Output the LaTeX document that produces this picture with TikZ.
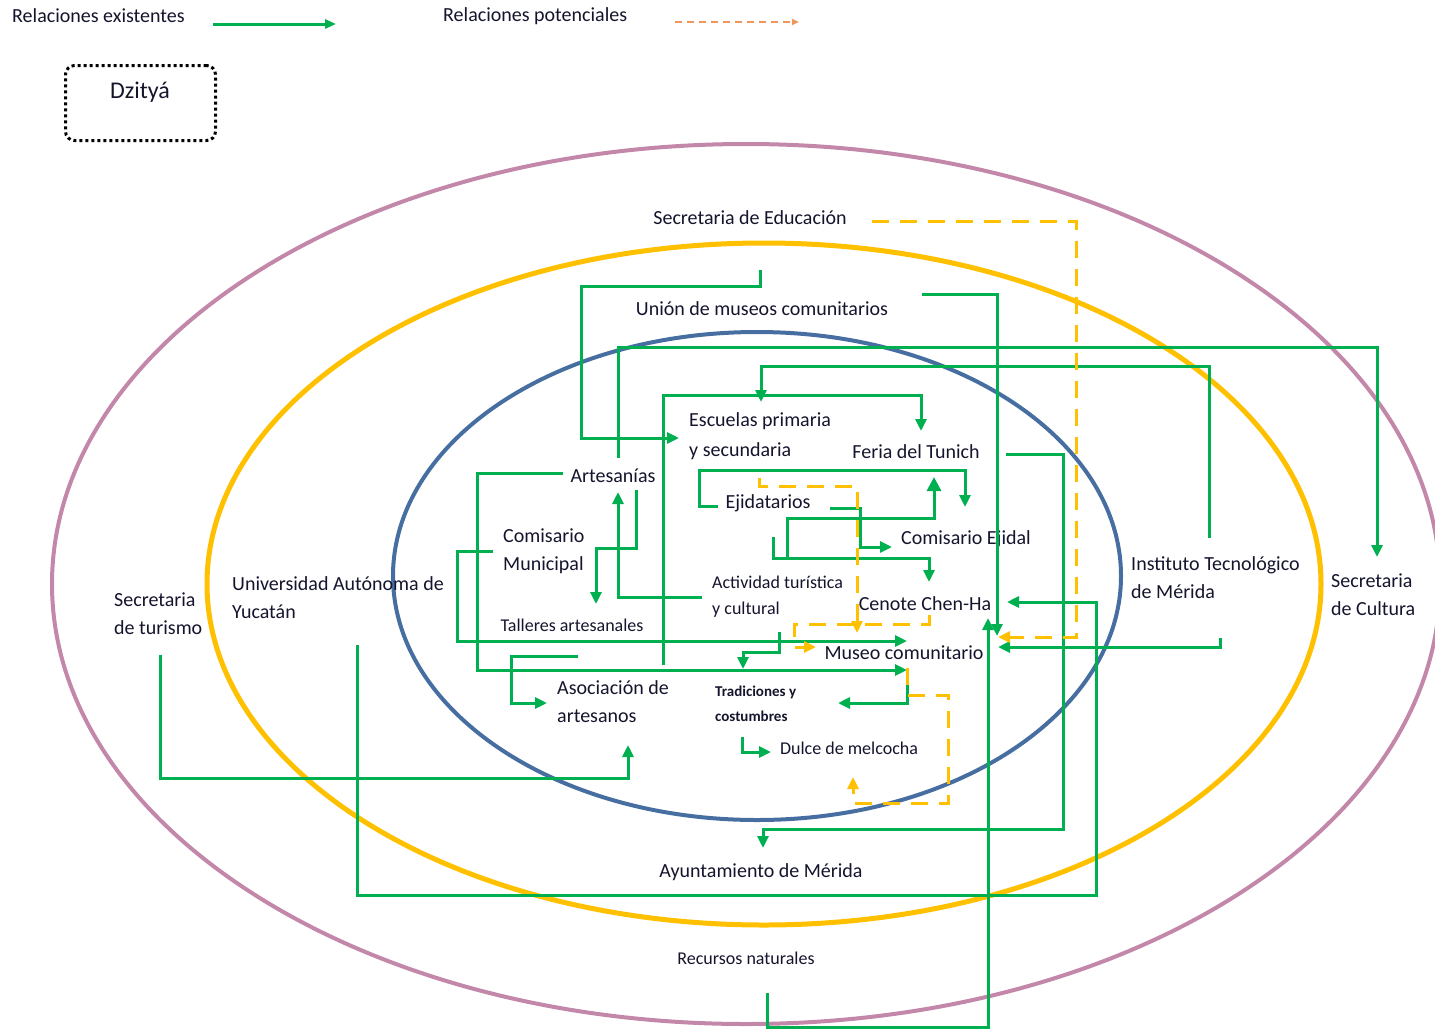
\documentclass[tikz,border=0pt]{standalone}
\usepackage{fontspec}
\setmainfont{Carlito}
\usetikzlibrary{arrows.meta}
\definecolor{grn}{RGB}{0,176,80}
\definecolor{gold}{RGB}{255,192,0}
\definecolor{pinkc}{RGB}{195,135,170}
\definecolor{bluec}{RGB}{70,110,160}
\definecolor{salmon}{RGB}{240,150,90}
\definecolor{txt}{RGB}{20,20,45}
\begin{document}
\begin{tikzpicture}[x=1pt,y=-1pt,
  lbl/.style={inner sep=0pt, text=txt, font=\fontsize{20}{28}\selectfont},
  lblw/.style={lbl, anchor=west, align=left},
  sml/.style={font=\fontsize{18}{26}\selectfont},
  rel/.style={draw=grn, line width=3pt, -{Triangle[length=12pt,width=11pt]}},
  pot/.style={draw=gold, line width=3pt, dash pattern=on 17pt off 11pt, -{Triangle[length=12pt,width=11pt]}},
  legrel/.style={draw=grn, line width=3pt, -{Triangle[length=11pt,width=9pt]}},
  legpot/.style={draw=salmon, line width=2pt, dash pattern=on 7pt off 5pt, -{Triangle[length=7pt,width=6pt]}},
  ring/.style={line width=4pt}
]
\useasboundingbox (0,0) rectangle (1435,1029);

% rings
\draw[ring, draw=pinkc] (746,584) ellipse [x radius=694, y radius=440];
\draw[ring, draw=gold, line width=5pt] (764,584) ellipse [x radius=557, y radius=341];
\draw[ring, draw=bluec] (757,576) ellipse [x radius=364, y radius=244];

% legend
\node[lbl, anchor=west] (leg1) at (12,16) {Relaciones existentes};
\node[lbl, anchor=west] (leg2) at (443,16) {Relaciones potenciales};
\coordinate (lg1a) at (213,24); \coordinate (lg1b) at (336,24);
\draw[legrel] (lg1a) -- (lg1b);
\coordinate (lg2a) at (675,22); \coordinate (lg2b) at (799,22);
\draw[legpot] (lg2a) -- (lg2b);
\node[draw=black, line width=3pt, dash pattern=on 3pt off 3pt, rounded corners=9pt,
      minimum width=150pt, minimum height=75pt] (dzbox) at (140.5,103) {};
\node[lbl, font=\fontsize{24}{28}\selectfont] (dz) at (140,92) {Dzityá};

% labels
\node[lbl] (sedu) at (750,218) {Secretaria de Educación};
\node[lbl] (umc) at (762,309) {Unión de museos comunitarios};
\node[lblw, font=\fontsize{20}{30}\selectfont] (esc) at (689,436) {Escuelas primaria\\y secundaria};
\node[lbl] (feria) at (916,452) {Feria del Tunich};
\node[lbl] (art) at (613,476) {Artesanías};
\node[lbl] (eji) at (768,503) {Ejidatarios};
\node[lblw] (cmun) at (503,551) {Comisario\\Municipal};
\node[lbl] (cej) at (966,539) {Comisario Ejidal};
\node[lblw, sml] (act) at (712,597) {Actividad turística\\y cultural};
\node[lbl] (cen) at (925,604) {Cenote Chen-Ha};
\node[lbl, sml] (tal) at (572,625) {Talleres artesanales};
\node[lbl] (mus) at (904,653) {Museo comunitario};
\node[lblw] (aso) at (557,702) {Asociación de\\artesanos};
\node[lblw, font=\fontsize{15}{25}\selectfont\bfseries] (tra) at (715,704) {Tradiciones y\\costumbres};
\node[lbl, sml] (dul) at (849,748) {Dulce de melcocha};
\node[lblw] (uady) at (232,598) {Universidad Autónoma de\\Yucatán};
\node[lblw] (stur) at (114,614) {Secretaria\\de turismo};
\node[lblw] (itm) at (1131,578) {Instituto Tecnológico\\de Mérida};
\node[lblw] (scul) at (1331,595) {Secretaria\\de Cultura};
\node[lbl] (ayu) at (761,872) {Ayuntamiento de Mérida};
\node[lbl, sml] (rec) at (746,958) {Recursos naturales};

% existing relations
\coordinate (A0) at (760,270); \coordinate (A1) at (679,438);
\draw[rel] (A0) -- (760,286) -- (581,286) -- (581,438) -- (A1);
\coordinate (B0) at (922,294); \coordinate (B1) at (997,636);
\draw[rel] (B0) -- (997,294) -- (B1);
\coordinate (C0) at (618,458); \coordinate (C1) at (1377,557);
\draw[rel] (C0) -- (618,347) -- (1377,347) -- (C1);
\coordinate (D0) at (1209,538); \coordinate (D1) at (761,402);
\draw[rel] (D0) -- (1209,366) -- (761,366) -- (D1);
\coordinate (E0) at (663,665); \coordinate (E1) at (921,431);
\draw[rel] (E0) -- (663,395) -- (921,395) -- (E1);
\coordinate (F0) at (563,473); \coordinate (F1) at (907,670);
\draw[rel] (F0) -- (477,473) -- (477,670) -- (F1);
\coordinate (F2) at (907,668); \coordinate (F3) at (838,703);
\draw[rel] (F2) -- (907,703) -- (F3);
\coordinate (G0) at (493,551); \coordinate (G1) at (907,641);
\draw[rel] (G0) -- (457,551) -- (457,641) -- (G1);
\coordinate (H0) at (636,490); \coordinate (H1) at (596,604);
\draw[rel] (H0) -- (636,548) -- (596,548) -- (H1);
\coordinate (I0) at (702,597); \coordinate (I1) at (618,492);
\draw[rel] (I0) -- (618,597) -- (I1);
\coordinate (J0) at (578,656); \coordinate (J1) at (547,703);
\draw[rel] (J0) -- (511,656) -- (511,703) -- (J1);
\coordinate (K0) at (779,632); \coordinate (K1) at (743,669);
\draw[rel] (K0) -- (779,652) -- (743,652) -- (K1);
\coordinate (L0) at (718,506); \coordinate (L1) at (965,507);
\draw[rel] (L0) -- (699,506) -- (699,470) -- (965,470) -- (L1);
\coordinate (M0) at (830,508); \coordinate (M1) at (892,547);
\draw[rel] (M0) -- (860,508) -- (860,547) -- (M1);
\coordinate (N0) at (787,560); \coordinate (N1) at (934,477);
\draw[rel, -{Triangle[length=14pt,width=14pt]}] (N0) -- (787,518) -- (934,518) -- (N1);
\coordinate (O0) at (773,537); \coordinate (O1) at (929,582);
\draw[rel] (O0) -- (773,558) -- (929,558) -- (O1);
\coordinate (P0) at (1006,454); \coordinate (P1) at (763,848);
\draw[rel] (P0) -- (1063,454) -- (1063,829) -- (763,829) -- (P1);
\coordinate (Q0) at (357,645); \coordinate (Q1) at (1007,602);
\draw[rel] (Q0) -- (357,895) -- (1096,895) -- (1096,602) -- (Q1);
\coordinate (R0) at (1220,638); \coordinate (R1) at (998,647);
\draw[rel] (R0) -- (1220,647) -- (R1);
\coordinate (T0) at (767,993); \coordinate (T1) at (988,618);
\draw[rel] (T0) -- (767,1027) -- (988,1027) -- (T1);
\coordinate (U0) at (160,655); \coordinate (U1) at (628,745);
\draw[rel] (U0) -- (160,778) -- (628,778) -- (U1);
\coordinate (S0) at (742,737); \coordinate (S1) at (771,752);
\draw[rel] (S0) -- (742,752) -- (S1);

% potential relations
\coordinate (V0) at (759,478); \coordinate (V1) at (857,633);
\draw[pot] (V0) -- (759,486) -- (857,486) -- (V1);
\coordinate (W0) at (929,615); \coordinate (W1) at (816,647);
\draw[pot] (W0) -- (929,624) -- (794,624) -- (794,647) -- (W1);
\coordinate (X0) at (872,221); \coordinate (X1) at (998,637);
\draw[pot] (X0) -- (1076,221) -- (1076,637) -- (X1);
\coordinate (Y0) at (907,668); \coordinate (Y1) at (853,777);
\draw[pot] (Y0) -- (907,695) -- (948,695) -- (948,803) -- (853,803) -- (Y1);
\end{tikzpicture}
\end{document}
